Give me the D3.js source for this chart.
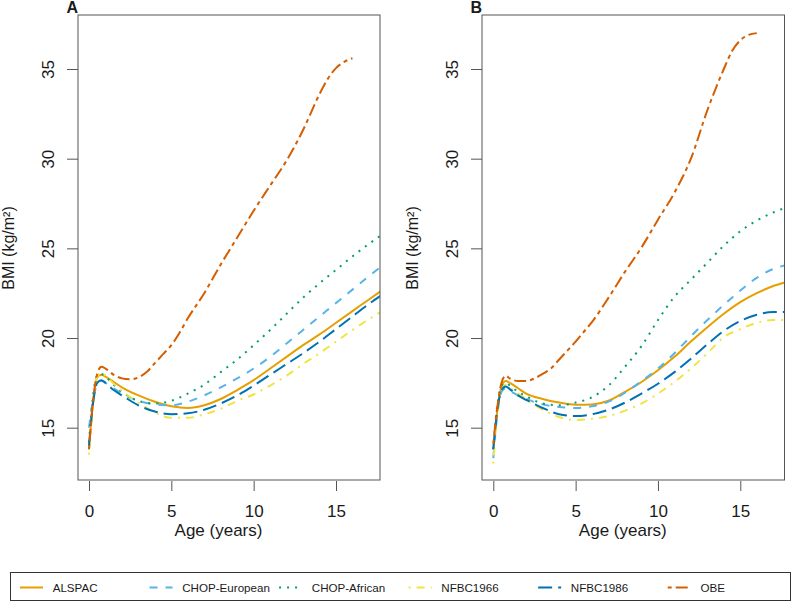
<!DOCTYPE html>
<html>
<head>
<meta charset="utf-8">
<script src="https://cdn.jsdelivr.net/npm/d3@7"></script>
<style>
  html, body { margin: 0; padding: 0; background: #fff; }
  svg { display: block; font-family: "Liberation Sans", Arial, sans-serif; }
</style>
</head>
<body>
<svg id="chart" width="792" height="602"></svg>
<script>
// ---- data ----
const seriesNames = ["ALSPAC", "CHOP-European", "CHOP-African", "NFBC1966", "NFBC1986", "OBE"];
const seriesColors = ["#E69F00", "#56B4E9", "#009E73", "#F0E442", "#0072B2", "#D55E00"];
const xTicks = [0, 5, 10, 15];
const yTicks = [15, 20, 25, 30, 35];
const panelLabels = ["A", "B"];

const ageGrid = [0,0.25,0.5,0.75,1,1.5,2,3,4,5,6,7,8,9,10,11,12,13,14,15,16,17,17.7];
const obeAges = [0,0.25,0.5,0.75,1,1.5,2,2.5,3,3.5,4,4.5,5,5.5,6,7,8,9,10,11,12,13,14,14.5,15,15.5,16];

// Panel A
const alspacA  = [13.8,16.5,17.8,17.95,17.85,17.55,17.25,16.8,16.45,16.2,16.1,16.25,16.6,17.1,17.65,18.3,18.95,19.6,20.2,20.85,21.5,22.15,22.6];
const chopEurA = [15.0,16.6,17.4,17.6,17.5,17.2,16.9,16.5,16.3,16.25,16.45,16.8,17.25,17.75,18.3,18.95,19.7,20.45,21.2,21.95,22.7,23.45,23.95];
const chopAfrA = [14.2,16.8,17.9,18.0,17.85,17.4,17.0,16.5,16.35,16.5,16.9,17.4,18.1,18.8,19.6,20.45,21.35,22.25,23.05,23.8,24.55,25.25,25.7];
const nfbc66A  = [13.5,16.3,17.8,18.1,17.9,17.45,17.05,16.4,15.85,15.55,15.55,15.75,16.05,16.5,16.85,17.35,17.9,18.55,19.15,19.8,20.45,21.05,21.45];
const nfbc86A  = [14.0,16.4,17.5,17.65,17.5,17.1,16.8,16.25,15.9,15.75,15.8,16.0,16.35,16.8,17.35,17.95,18.55,19.15,19.8,20.5,21.2,21.9,22.35];
const obeA     = [13.8,16.5,18.0,18.4,18.3,17.95,17.75,17.7,17.8,18.1,18.6,19.1,19.6,20.3,21.1,22.5,24.1,25.6,27.1,28.5,29.9,31.6,33.6,34.45,35.05,35.4,35.6];

// Panel B
const alspacB  = [13.8,16.0,17.3,17.6,17.5,17.2,16.9,16.6,16.4,16.28,16.3,16.5,17.0,17.55,18.2,18.95,19.8,20.6,21.35,22.0,22.5,22.9,23.1];
const chopEurB = [13.3,15.8,17.0,17.2,17.05,16.8,16.6,16.3,16.15,16.1,16.2,16.45,16.95,17.6,18.3,19.15,20.1,21.0,21.85,22.65,23.35,23.85,24.05];
const chopAfrB = [13.8,16.3,17.3,17.5,17.35,17.0,16.75,16.35,16.25,16.4,16.7,17.35,18.4,19.55,21.0,22.3,23.25,24.2,25.15,25.95,26.55,27.0,27.25];
const nfbc66B  = [13.0,15.8,17.1,17.4,17.25,16.9,16.6,16.0,15.6,15.43,15.5,15.65,15.95,16.35,16.9,17.55,18.3,19.15,20.05,20.5,20.85,21.0,21.0];
const nfbc86B  = [13.8,16.0,17.1,17.3,17.15,16.8,16.55,16.1,15.75,15.65,15.75,16.0,16.4,16.9,17.45,18.1,18.85,19.65,20.4,20.95,21.3,21.45,21.45];
const obeB     = [14.1,16.2,17.5,17.9,17.75,17.6,17.6,17.75,18.0,18.3,18.8,19.3,19.8,20.35,20.9,22.25,23.7,25.05,26.6,28.1,30.0,32.7,35.0,36.0,36.6,36.9,37.0];

const panelSeries = [
  [alspacA, chopEurA, chopAfrA, nfbc66A, nfbc86A, obeA],
  [alspacB, chopEurB, chopAfrB, nfbc66B, nfbc86B, obeB]
];

// ---- styling ----
const dashes = ["none", "8,8", "2,6", "2,6,8,6", "14,6", "4,4,12,4"];
const lw = 2;
const svg = d3.select("#chart");
const textColor = "#1a1a1a";
const fontFam = '"Liberation Sans", Arial, sans-serif';

const panels = [
  { left: 78, right: 380, x0: 89, x15: 336 },
  { left: 482, right: 784.5, x0: 493.3, x15: 740.3 }
];
const plotTop = 15, plotBottom = 480;
const y = d3.scaleLinear().domain([15, 35]).range([427.7, 69]);

panels.forEach((p, pi) => {
  const x = d3.scaleLinear().domain([0, 15]).range([p.x0, p.x15]);
  const g = svg.append("g");

  const clipId = "clip" + pi;
  svg.append("clipPath").attr("id", clipId)
    .append("rect").attr("x", p.left).attr("y", plotTop)
    .attr("width", p.right - p.left).attr("height", plotBottom - plotTop);

  // curves
  const line = d3.line().x(d => x(d[0])).y(d => y(d[1])).curve(d3.curveMonotoneX);
  const lines = g.append("g").attr("clip-path", `url(#${clipId})`);
  panelSeries[pi].forEach((vals, si) => {
    const ages = si === 5 ? obeAges : ageGrid;
    const pts = ages.map((a, i) => [a, vals[i]]);
    lines.append("path")
      .attr("d", line(pts))
      .attr("fill", "none")
      .attr("stroke", seriesColors[si])
      .attr("stroke-width", lw)
      .attr("stroke-dasharray", dashes[si])
      .attr("stroke-linejoin", "round");
  });

  // box
  g.append("rect")
    .attr("x", p.left).attr("y", plotTop)
    .attr("width", p.right - p.left).attr("height", plotBottom - plotTop)
    .attr("fill", "none").attr("stroke", "#555").attr("stroke-width", 1);

  // x axis (ticks only, R-style)
  const xAxis = d3.axisBottom(x).tickValues(xTicks).tickSize(10).tickSizeOuter(0).tickPadding(14);
  const xg = g.append("g").attr("transform", `translate(0,${plotBottom + 1})`).call(xAxis);
  xg.select(".domain").remove();
  xg.selectAll(".tick line").attr("stroke", "#555");
  xg.selectAll(".tick text").attr("font-size", 17).attr("fill", textColor)
    .attr("font-family", fontFam);

  // y axis
  const yAxis = d3.axisLeft(y).tickValues(yTicks).tickSize(11).tickSizeOuter(0).tickFormat(d3.format("d"));
  const yg = g.append("g").attr("transform", `translate(${p.left},0)`).call(yAxis);
  yg.select(".domain").remove();
  yg.selectAll(".tick line").attr("stroke", "#555");
  yg.selectAll(".tick text")
    .attr("font-size", 17).attr("fill", textColor)
    .attr("font-family", fontFam)
    .attr("x", null).attr("dy", null)
    .attr("text-anchor", "middle")
    .attr("transform", "translate(-24.5,0) rotate(-90)");

  // axis titles
  g.append("text")
    .attr("x", (p.x0 + p.x15) / 2 + 6).attr("y", 535.5)
    .attr("text-anchor", "middle").attr("font-size", 17).attr("fill", textColor)
    .text("Age (years)");
  g.append("text")
    .attr("transform", `translate(${p.left - 64.5},${248}) rotate(-90)`)
    .attr("text-anchor", "middle").attr("font-size", 16).attr("fill", textColor)
    .text("BMI (kg/m²)");

  // panel label
  g.append("text")
    .attr("x", p.left).attr("y", 12.5)
    .attr("text-anchor", "end").attr("font-size", 16).attr("font-weight", "bold")
    .attr("fill", textColor)
    .text(panelLabels[pi]);
});

// legend
const leg = svg.append("g");
leg.append("rect").attr("x", 10.5).attr("y", 572.5).attr("width", 780).attr("height", 28)
  .attr("fill", "none").attr("stroke", "#333").attr("stroke-width", 1);
const legX = d3.scaleLinear().domain([0, 5]).range([20, 667.7]);
seriesNames.forEach((name, i) => {
  const lx = legX(i);
  leg.append("line")
    .attr("x1", lx).attr("x2", lx + 23).attr("y1", 587.5).attr("y2", 587.5)
    .attr("stroke", seriesColors[i]).attr("stroke-width", lw)
    .attr("stroke-dasharray", dashes[i]);
  leg.append("text")
    .attr("x", lx + 32.7).attr("y", 591.5)
    .attr("font-size", 11.6).attr("fill", textColor)
    .text(name);
});
</script>
</body>
</html>
